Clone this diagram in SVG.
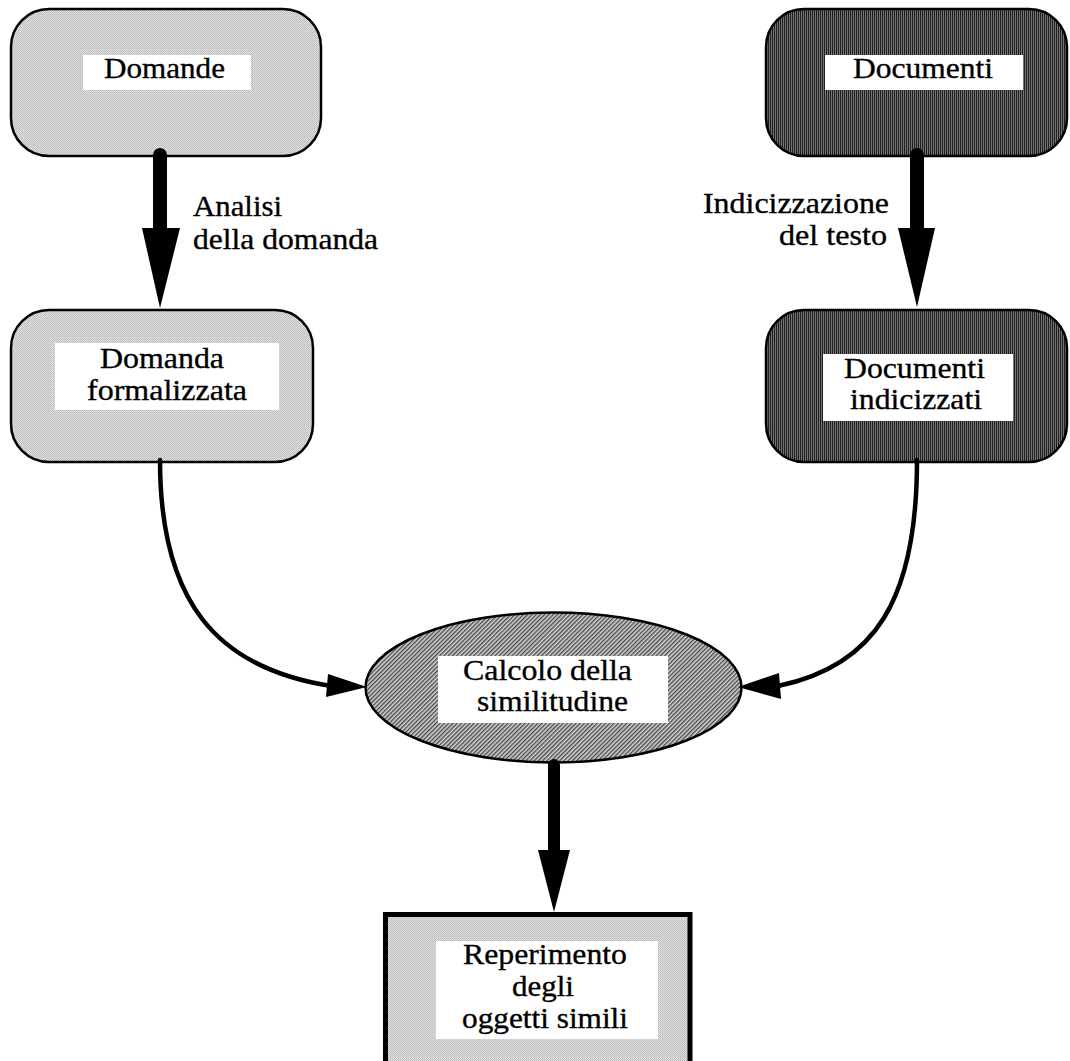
<svg xmlns="http://www.w3.org/2000/svg" width="1070" height="1061" viewBox="0 0 1070 1061">
<style>
text{font-family:"Liberation Serif","Times New Roman",serif;font-size:30px;fill:#000;stroke:#000;stroke-width:0.35}
.box{stroke:#000;stroke-width:2.5}
.lbl{fill:#fff}
.thick{stroke:#000;stroke-width:14;stroke-linecap:round;fill:none}
.curve{stroke:#000;stroke-width:4.5;stroke-linecap:round;fill:none}
.head{fill:#000}
</style>
<defs>
<pattern id="light" width="2" height="2" patternUnits="userSpaceOnUse">
<rect width="2" height="2" fill="#e0e0e0"/>
<rect width="1" height="1" fill="#b8b8b8"/>
<rect x="1" y="1" width="1" height="1" fill="#c4c4c4"/>
</pattern>
<pattern id="dark" width="2" height="2" patternUnits="userSpaceOnUse">
<rect width="2" height="2" fill="#747474"/>
<rect width="1" height="2" fill="#1e1e1e"/>
</pattern>
<pattern id="hatch" width="3" height="3" patternUnits="userSpaceOnUse" patternTransform="rotate(45)">
<rect width="3" height="3" fill="#d4d4d4"/>
<rect width="1.4" height="3" fill="#4a4a4a"/>
</pattern>
</defs>

<g id="domande">
<rect class="box" x="11" y="9" width="310" height="147" rx="38" fill="url(#light)"/>
<rect class="lbl" x="83" y="55" width="168" height="35"/>
<text x="104" y="78" textLength="121" lengthAdjust="spacingAndGlyphs">Domande</text>
</g>

<g id="label-analisi">
<text x="193" y="216" textLength="89" lengthAdjust="spacingAndGlyphs">Analisi</text>
<text x="193" y="249" textLength="185" lengthAdjust="spacingAndGlyphs">della domanda</text>
</g>

<g id="documenti">
<rect class="box" x="766" y="9" width="301" height="147" rx="38" fill="url(#dark)"/>
<rect class="lbl" x="825" y="55" width="198" height="35"/>
<text x="853" y="78" textLength="140" lengthAdjust="spacingAndGlyphs">Documenti</text>
</g>

<g id="label-indicizzazione">
<text x="703" y="213" textLength="186" lengthAdjust="spacingAndGlyphs">Indicizzazione</text>
<text x="779" y="245" textLength="108" lengthAdjust="spacingAndGlyphs">del testo</text>
</g>

<g id="domanda-formalizzata">
<rect class="box" x="11" y="310" width="302" height="152" rx="38" fill="url(#light)"/>
<rect class="lbl" x="55" y="343" width="224" height="67"/>
<text x="100" y="368" textLength="124" lengthAdjust="spacingAndGlyphs">Domanda</text>
<text x="87" y="400" textLength="160" lengthAdjust="spacingAndGlyphs">formalizzata</text>
</g>

<g id="documenti-indicizzati">
<rect class="box" x="766" y="310" width="301" height="152" rx="38" fill="url(#dark)"/>
<rect class="lbl" x="823" y="354" width="190" height="67"/>
<text x="844" y="378" textLength="141" lengthAdjust="spacingAndGlyphs">Documenti</text>
<text x="850" y="409" textLength="132" lengthAdjust="spacingAndGlyphs">indicizzati</text>
</g>

<g id="calcolo">
<ellipse class="box" cx="553.5" cy="687.5" rx="188" ry="75" fill="url(#hatch)"/>
<rect class="lbl" x="438" y="656" width="230" height="67"/>
<text x="463" y="680" textLength="169" lengthAdjust="spacingAndGlyphs">Calcolo della</text>
<text x="477" y="711" textLength="151" lengthAdjust="spacingAndGlyphs">similitudine</text>
</g>

<g id="reperimento">
<rect x="385.5" y="914.5" width="304.5" height="170" fill="url(#light)" stroke="#000" stroke-width="5"/>
<rect class="lbl" x="436" y="941" width="222" height="98"/>
<text x="463" y="964" textLength="164" lengthAdjust="spacingAndGlyphs">Reperimento</text>
<text x="512" y="996" textLength="62" lengthAdjust="spacingAndGlyphs">degli</text>
<text x="462" y="1028" textLength="166" lengthAdjust="spacingAndGlyphs">oggetti simili</text>
</g>

<g id="connectors">
<line class="thick" x1="160" y1="155" x2="160" y2="232"/>
<polygon class="head" points="142,228 180,228 160,308"/>
<line class="thick" x1="917" y1="155" x2="917" y2="232"/>
<polygon class="head" points="898,228 935,228 917,307"/>
<path class="curve" d="M160,460 C160,600 215,668 331,686"/>
<polygon class="head" points="328,674 367,687 326,697"/>
<path class="curve" d="M917,460 C917,600 875,666 778,686"/>
<polygon class="head" points="779,673 738,687 781,699"/>
<line class="thick" x1="554" y1="765" x2="554" y2="854" style="stroke-width:12"/>
<polygon class="head" points="538,850 570,850 554,912"/>
</g>
</svg>
